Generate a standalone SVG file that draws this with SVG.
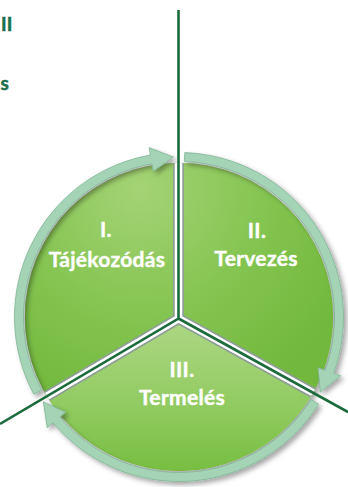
<svg xmlns="http://www.w3.org/2000/svg" width="348" height="487" viewBox="0 0 348 487">
<defs>
<radialGradient id="gTop" gradientUnits="userSpaceOnUse" cx="140" cy="190" r="230">
<stop offset="0" stop-color="#a4d375"/>
<stop offset="0.55" stop-color="#84c450"/>
<stop offset="1" stop-color="#72b83d"/>
</radialGradient>
<linearGradient id="gBot" gradientUnits="userSpaceOnUse" x1="0" y1="325" x2="0" y2="470">
<stop offset="0" stop-color="#acd682"/>
<stop offset="0.6" stop-color="#8fca5e"/>
<stop offset="1" stop-color="#78be42"/>
</linearGradient>
<filter id="sh" x="-20%" y="-20%" width="140%" height="140%">
<feDropShadow dx="3" dy="3" stdDeviation="2.5" flood-color="#000" flood-opacity="0.35"/>
</filter>
<clipPath id="disc"><circle cx="179" cy="317" r="154"/></clipPath>
</defs>
<style>
.lbl{font-family:Lato,"Open Sans","Liberation Sans",sans-serif;font-weight:bold;font-size:21px;letter-spacing:0.3px;fill:#ffffff;text-anchor:middle;stroke:#ffffff;stroke-width:0.4}
.side{font-family:Lato,"Open Sans","Liberation Sans",sans-serif;font-weight:bold;font-size:19px;fill:#1d7050;text-anchor:start;stroke:#1d7050;stroke-width:0.5}
.ring{fill:#a5d3b6;stroke:#7fb495;stroke-width:0.8}
.gl{stroke:#1b6b3d;stroke-width:2.6;fill:none}
</style>

<g id="side-text">
<text class="side" x="1" y="31">II</text>
<text class="side" x="0.5" y="90">s</text>
</g>

<g id="disc-base" filter="url(#sh)">
<circle cx="179" cy="317" r="154" fill="#78bd42"/>
</g>

<g id="node-1">
<path d="M178.5,318.5 L178.5,163 A154,154 0 0 0 45.5,395 Z" fill="url(#gTop)" clip-path="url(#disc)"/>
<text class="lbl" x="106" y="237">I.</text>
<text class="lbl" x="107" y="267">Tájékozódás</text>
</g>

<g id="node-2">
<path d="M178.5,318.5 L178.5,163 A154,154 0 0 1 315,395 Z" fill="url(#gTop)" clip-path="url(#disc)"/>
<text class="lbl" x="257" y="238">II.</text>
<text class="lbl" x="256" y="266">Tervezés</text>
</g>

<g id="node-3">
<path d="M178.5,318.5 L315,395 A154,154 0 0 1 45.5,395 Z" fill="url(#gBot)" clip-path="url(#disc)"/>
<text class="lbl" x="182" y="377">III.</text>
<text class="lbl" x="182" y="405">Termelés</text>
</g>

<g id="ring" filter="url(#sh)">
<path class="ring" d="M33.75,394.23 A164.5,164.5 0 0 1 150.43,155 L149.13,147.61 L173.42,157.1 L153.3,171.25 L152,163.86 A155.5,155.5 0 0 0 41.7,390 Z"/>
<path class="ring" d="M184.74,152.6 A164.5,164.5 0 0 1 333.58,373.26 L340.63,375.83 L320.27,392.12 L318.07,367.62 L325.12,370.18 A155.5,155.5 0 0 0 184.43,161.59 Z"/>
<path class="ring" d="M318.5,404.17 A164.5,164.5 0 0 1 52.99,422.74 L47.24,427.56 L43.31,401.79 L65.63,412.13 L59.88,416.95 A155.5,155.5 0 0 0 310.87,399.4 Z"/>
</g>

<g id="connectors">
<g clip-path="url(#disc)">
<path d="M178.5,0 L178.5,318.5 L0,424 M178.5,318.5 L348,412" fill="none" stroke="#8e9e96" stroke-width="11" stroke-linejoin="miter"/>
<path d="M178.5,0 L178.5,318.5 L0,424 M178.5,318.5 L348,412" fill="none" stroke="#ffffff" stroke-width="7.5" stroke-linejoin="miter"/>
</g>
<path class="gl" d="M178.5,10 L178.5,318.5 L0,424 M178.5,318.5 L348,412" stroke-linejoin="miter"/>
</g>
</svg>
